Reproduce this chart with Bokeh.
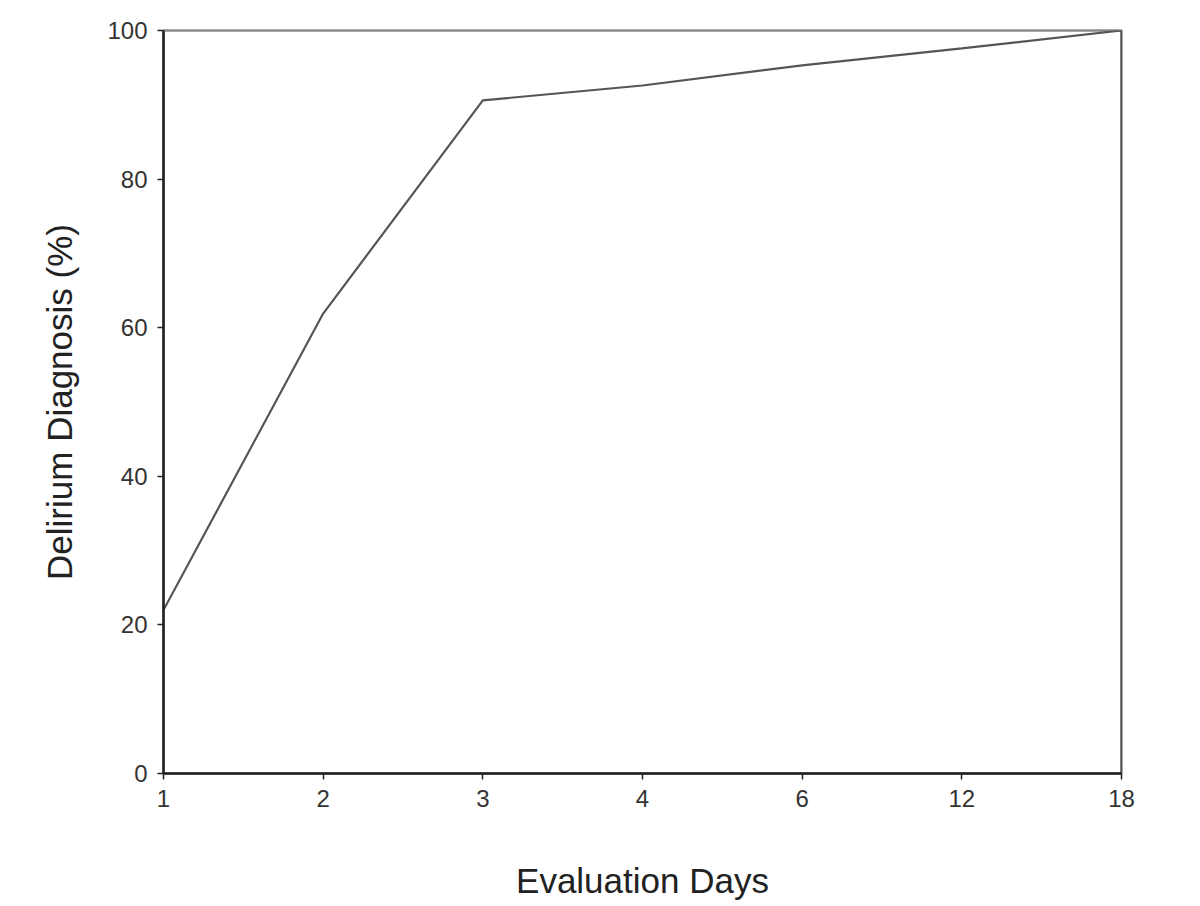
from bokeh.plotting import figure
from bokeh.models import Range1d, Span, FixedTicker
from bokeh.embed import file_html
from bokeh.resources import INLINE

days = ["1", "2", "3", "4", "6", "12", "18"]
diagnosis_pct = [22.0, 61.9, 90.6, 92.6, 95.3, 97.6, 100.0]
y_ticks = [0, 20, 40, 60, 80, 100]

xpos = list(range(len(days)))

p = figure(width=1192, height=902, output_backend="svg", toolbar_location=None,
           x_range=Range1d(0, len(days) - 1), y_range=Range1d(0, 100),
           min_border_left=163, min_border_right=71, min_border_top=30, min_border_bottom=124)

p.line(xpos, diagnosis_pct, line_color="#555555", line_width=2.2)

p.xgrid.visible = False
p.ygrid.visible = False
p.outline_line_color = "#8a8a8a"
p.outline_line_width = 2.5
p.add_layout(Span(location=len(days) - 1, dimension="height", line_color="#222222", line_width=1.6))

font = "Liberation Sans"
p.xaxis.ticker = FixedTicker(ticks=xpos)
p.xaxis.major_label_overrides = {i: d for i, d in enumerate(days)}
p.yaxis.ticker = FixedTicker(ticks=y_ticks)

for ax in (p.xaxis[0], p.yaxis[0]):
    ax.axis_line_color = "#222222"
    ax.axis_line_width = 2.5
    ax.major_tick_line_color = "#222222"
    ax.major_tick_line_width = 1.5
    ax.major_tick_out = 6
    ax.major_tick_in = 0
    ax.minor_tick_line_color = None
    ax.major_label_text_font = font
    ax.major_label_text_font_size = "24px"
    ax.major_label_text_color = "#333333"
    ax.axis_label_text_font = font
    ax.axis_label_text_font_size = "35px"
    ax.axis_label_text_font_style = "normal"
    ax.axis_label_text_color = "#222222"

p.xaxis.axis_label = "Evaluation Days"
p.xaxis.major_label_standoff = 10
p.xaxis.axis_label_standoff = 51
p.yaxis.axis_label = "Delirium Diagnosis (%)"
p.yaxis.major_label_standoff = 10
p.yaxis.axis_label_standoff = 25

open("out.html", "w").write(file_html(p, INLINE))
